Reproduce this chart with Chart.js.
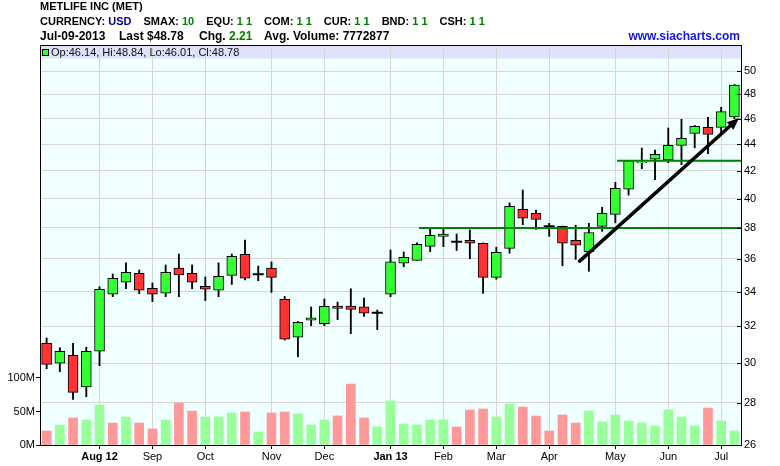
<!DOCTYPE html>
<html><head><meta charset="utf-8">
<script src="https://cdn.jsdelivr.net/npm/chart.js@4/dist/chart.umd.min.js"></script>
<style>
html,body{margin:0;padding:0;background:#fff;}
#wrap{position:relative;width:780px;height:466px;overflow:hidden;font-family:"Liberation Sans",Arial,sans-serif;}
canvas{position:absolute;left:0;top:0;}
.t{position:absolute;white-space:nowrap;line-height:1;font-weight:bold;color:#000;}
.g{color:#008000}
.n{color:#000080}
.s11{font-size:11px}
.s12{font-size:12px}
.row span.grp{margin-right:12px}
</style></head><body>
<div id="wrap">
<canvas id="c" width="780" height="466"></canvas>
<div class="t s11" style="left:40px;top:1px">METLIFE INC (MET)</div>
<div class="t s11 row" style="left:40px;top:16px"><span class="grp">CURRENCY: <span class="n">USD</span></span><span class="grp">SMAX: <span class="g">10</span></span><span class="grp">EQU: <span class="g">1 1</span></span><span class="grp">COM: <span class="g">1 1</span></span><span class="grp">CUR: <span class="g">1 1</span></span><span class="grp">BND: <span class="g">1 1</span></span><span>CSH: <span class="g">1 1</span></span></div>
<div class="t s12" style="left:40px;top:30px">Jul-09-2013</div>
<div class="t s12" style="left:119px;top:30px">Last $48.78</div>
<div class="t s12" style="left:199px;top:30px">Chg.</div>
<div class="t s12 g" style="left:229px;top:30px">2.21</div>
<div class="t s12" style="left:264px;top:30px">Avg. Volume: 7772877</div>
<div class="t s12" style="right:40px;top:30px;color:#1414e6">www.siacharts.com</div>
<div style="position:absolute;left:42px;top:49px;width:5px;height:5px;border:1px solid #000;background:#33ff33"></div>
<div class="t" style="left:51px;top:47px;font-size:11px;font-weight:normal;color:#111">Op:46.14, Hi:48.84, Lo:46.01, Cl:48.78</div>
</div>
<script>
const weeks = ['2012-07-09','2012-07-16','2012-07-23','2012-07-30','2012-08-06','2012-08-13','2012-08-20','2012-08-27',
'2012-09-03','2012-09-10','2012-09-17','2012-09-24','2012-10-01','2012-10-08','2012-10-15','2012-10-22','2012-10-29',
'2012-11-05','2012-11-12','2012-11-19','2012-11-26','2012-12-03','2012-12-10','2012-12-17','2012-12-24','2012-12-31',
'2013-01-07','2013-01-14','2013-01-21','2013-01-28','2013-02-04','2013-02-11','2013-02-18','2013-02-25',
'2013-03-04','2013-03-11','2013-03-18','2013-03-25','2013-04-01','2013-04-08','2013-04-15','2013-04-22','2013-04-29',
'2013-05-06','2013-05-13','2013-05-20','2013-05-27','2013-06-03','2013-06-10','2013-06-17','2013-06-24','2013-07-01','2013-07-08'];

const opens  = [31.06,30.00,30.42,28.78,30.63,33.84,34.56,35.11,34.20,33.90,35.42,35.11,34.32,34.08,34.98,36.29,35.04,35.42,33.55,
31.39,32.34,32.14,33.15,33.15,33.10,32.77,33.84,35.73,35.91,36.80,37.45,37.10,37.19,37.00,34.86,36.67,39.26,38.99,38.11,
38.11,37.19,36.46,38.11,38.92,40.66,42.60,42.85,42.80,43.91,44.84,45.31,45.31,46.14];
const highs  = [31.35,30.82,31.06,30.85,34.29,35.06,35.75,35.31,34.52,35.62,36.31,35.62,34.88,35.75,36.31,37.21,35.55,35.81,33.71,
32.27,33.10,33.56,33.38,34.17,33.62,32.92,36.56,36.44,37.02,37.95,37.95,37.60,37.87,37.02,36.74,39.70,40.61,39.21,38.31,
38.13,38.18,38.31,39.40,41.16,42.76,43.70,43.55,45.26,45.95,45.47,46.11,46.93,48.84];
const lows   = [29.71,29.56,28.16,28.29,29.87,33.70,34.17,33.88,33.41,33.70,33.70,34.17,33.47,33.70,34.43,34.70,34.65,33.95,31.24,
30.34,32.03,32.03,32.37,31.59,32.56,31.81,33.70,35.51,35.90,36.46,36.78,36.53,36.01,33.90,34.74,36.36,38.22,37.91,37.45,
35.57,35.97,35.23,37.78,38.35,40.25,42.15,41.35,42.60,42.45,43.72,43.27,44.89,46.01];
const closes = [29.94,30.63,28.51,30.63,34.14,34.80,35.17,34.08,33.84,35.17,35.00,34.56,34.14,34.92,36.16,34.80,35.04,34.86,31.28,
32.22,32.47,33.14,33.02,32.96,32.74,32.77,35.81,36.10,36.93,37.52,37.60,37.10,37.00,34.86,36.42,39.47,38.65,38.58,38.11,
37.00,36.87,37.70,38.99,40.73,42.75,42.65,43.23,43.91,44.45,45.39,44.76,46.57,48.78];
// weekly volume, millions
const volumes = [20.9,29.9,40.3,37.3,59.7,32.8,41.8,32.8,23.9,37.3,62.7,50.7,41.8,41.8,47.8,49.3,19.4,47.8,49.3,
46.3,29.9,37.3,43.3,91.0,40.3,26.9,65.7,31.3,29.9,37.3,37.3,26.9,52.2,53.7,41.8,61.2,56.7,43.3,20.9,
44.8,32.8,50.7,34.3,44.8,35.8,32.8,28.4,52.2,41.8,28.4,55.2,35.8,20.9];
const volUp = [0,1,0,1,1,0,1,0,0,1,0,0,1,1,1,0,1,0,0,
1,1,1,0,0,0,1,1,1,1,1,1,0,0,0,1,1,0,0,0,
0,0,1,1,1,1,1,1,1,1,1,0,1,1];

const tickIndex = [4,8,12,17,21,26,30,34,38,43,47,51];
const tickText  = ['Aug 12','Sep','Oct','Nov','Dec','Jan 13','Feb','Mar','Apr','May','Jun','Jul'];
const boldTicks = ['Aug 12','Jan 13'];
const priceTicks = [26,28,30,32,34,36,38,40,42,44,46,48,50];
const volTicks = [0,50,100];
const priceRange = [26, 52.33];
const volRange = [0, 597];

// drawn annotations (category index, price)
const supportLevels = [38.0, 42.75];
const supportStart = [28.16, 43.13];
const arrowFrom = [40.3, 35.86];
const arrowTo = [52.35, 46.06];

const bodies = opens.map((o,i) => o === closes[i] ? null : [o, closes[i]]);
const bodyColors = opens.map((o,i) => closes[i] >= o ? '#33ff33' : '#ff3333');
const wicks = lows.map((l,i) => [l, highs[i]]);
const doji = opens.map((o,i) => o === closes[i] ? o : null);
const volColors = volUp.map(u => u ? '#99ff99' : '#ff9999');
const tickPos = i => tickIndex.indexOf(i);

const overlay = {
  id:'overlay',
  beforeDraw(chart){
    const {ctx, chartArea:a} = chart;
    ctx.save();
    ctx.fillStyle = '#f0ffff';
    ctx.fillRect(a.left, a.top, a.right-a.left, a.bottom-a.top);
    ctx.fillStyle = '#dfe1f9';
    ctx.fillRect(a.left, a.top, a.right-a.left, 13.5);
    ctx.restore();
  },
  afterDatasetsDraw(chart){
    const {ctx, chartArea:a, scales} = chart;
    const x = scales.x, y = scales.y;
    ctx.save();
    ctx.strokeStyle = '#008000';
    ctx.lineWidth = 2;
    supportLevels.forEach((lv,k) => {
      const py = y.getPixelForValue(lv);
      ctx.beginPath();
      ctx.moveTo(x.getPixelForValue(supportStart[k]), py);
      ctx.lineTo(a.right, py);
      ctx.stroke();
    });
    const x1 = x.getPixelForValue(arrowFrom[0]), y1 = y.getPixelForValue(arrowFrom[1]);
    const x2 = x.getPixelForValue(arrowTo[0]), y2 = y.getPixelForValue(arrowTo[1]);
    const ang = Math.atan2(y2-y1, x2-x1);
    const hl = 12, hw = 5;
    const bx = x2 - hl*Math.cos(ang), by = y2 - hl*Math.sin(ang);
    ctx.strokeStyle = '#000';
    ctx.fillStyle = '#000';
    ctx.lineWidth = 3.5;
    ctx.lineCap = 'round';
    ctx.beginPath(); ctx.moveTo(x1,y1); ctx.lineTo(bx,by); ctx.stroke();
    ctx.beginPath();
    ctx.moveTo(x2,y2);
    ctx.lineTo(bx + hw*Math.sin(ang), by - hw*Math.cos(ang));
    ctx.lineTo(bx - hw*Math.sin(ang), by + hw*Math.cos(ang));
    ctx.closePath(); ctx.fill();
    ctx.restore();
  },
  afterDraw(chart){
    const {ctx, chartArea:a, scales} = chart;
    ctx.save();
    ctx.strokeStyle = '#000';
    ctx.lineWidth = 1;
    ctx.beginPath();
    ctx.moveTo(a.left, Math.round(a.top)+0.5); ctx.lineTo(a.right, Math.round(a.top)+0.5);
    priceTicks.forEach(v => {
      const py = Math.round(scales.y.getPixelForValue(v)) + 0.5;
      ctx.moveTo(a.right-4, py); ctx.lineTo(a.right, py);
    });
    ctx.stroke();
    ctx.restore();
  }
};

new Chart(document.getElementById('c'), {
  data: {
    labels: weeks,
    datasets: [
      {type:'line', data: doji, yAxisID:'y', showLine:false, pointStyle:'line', pointRadius:5.5,
       pointBorderWidth:2, pointBorderColor:'#000', borderColor:'#000', order:0},
      {type:'bar', data: bodies, yAxisID:'y', backgroundColor: bodyColors, borderColor:'#000', borderWidth:1,
       borderSkipped:false, barThickness:10, grouped:false, order:1},
      {type:'bar', data: wicks, yAxisID:'y', backgroundColor:'#000', borderWidth:0, barThickness:1.2, grouped:false, order:2},
      {type:'bar', data: volumes, yAxisID:'yVol', backgroundColor: volColors, borderWidth:0, barThickness:9, grouped:false, order:3}
    ]
  },
  options: {
    responsive:false, animation:false, events:[],
    layout:{padding:{top:45,left:0,right:0,bottom:0}},
    plugins:{legend:{display:false}, tooltip:{enabled:false}, title:{display:false}},
    scales:{
      x:{
        type:'category', offset:true,
        grid:{offset:false, lineWidth:1, tickLength:4,
          color: c => tickPos(c.index) >= 0 ? '#d6d6d6' : 'rgba(0,0,0,0)',
          tickColor: c => tickPos(c.index) >= 0 ? '#000' : 'rgba(0,0,0,0)'},
        border:{color:'#000', width:1},
        ticks:{autoSkip:false, maxRotation:0, minRotation:0, padding:1, color:'#000',
          font: c => ({family:'Liberation Sans', size:11,
            weight: (c.tick && boldTicks.includes(tickText[tickPos(c.index)])) ? 'bold' : 'normal'}),
          callback: (v,i) => tickPos(i) >= 0 ? tickText[tickPos(i)] : ''},
        afterFit: s => { s.height = 21; }
      },
      y:{
        type:'logarithmic', position:'right', min:priceRange[0], max:priceRange[1],
        afterBuildTicks: s => { s.ticks = priceTicks.map(v => ({value:v})); },
        ticks:{autoSkip:false, padding:3, color:'#000', font:{family:'Liberation Sans', size:11},
          callback: v => String(v)},
        grid:{color:'#d6d6d6', lineWidth:1, drawTicks:false},
        border:{color:'#000', width:1},
        afterFit: s => { s.width = 39; }
      },
      yVol:{
        type:'linear', position:'left', min:volRange[0], max:volRange[1],
        afterBuildTicks: s => { s.ticks = volTicks.map(v => ({value:v})); },
        ticks:{padding:1, color:'#000', font:{family:'Liberation Sans', size:11}, callback: v => v + 'M'},
        grid:{drawOnChartArea:false, tickColor:'#000', tickLength:4},
        border:{color:'#000', width:1},
        afterFit: s => { s.width = 40; }
      }
    }
  },
  plugins:[overlay]
});
</script>
</body></html>
